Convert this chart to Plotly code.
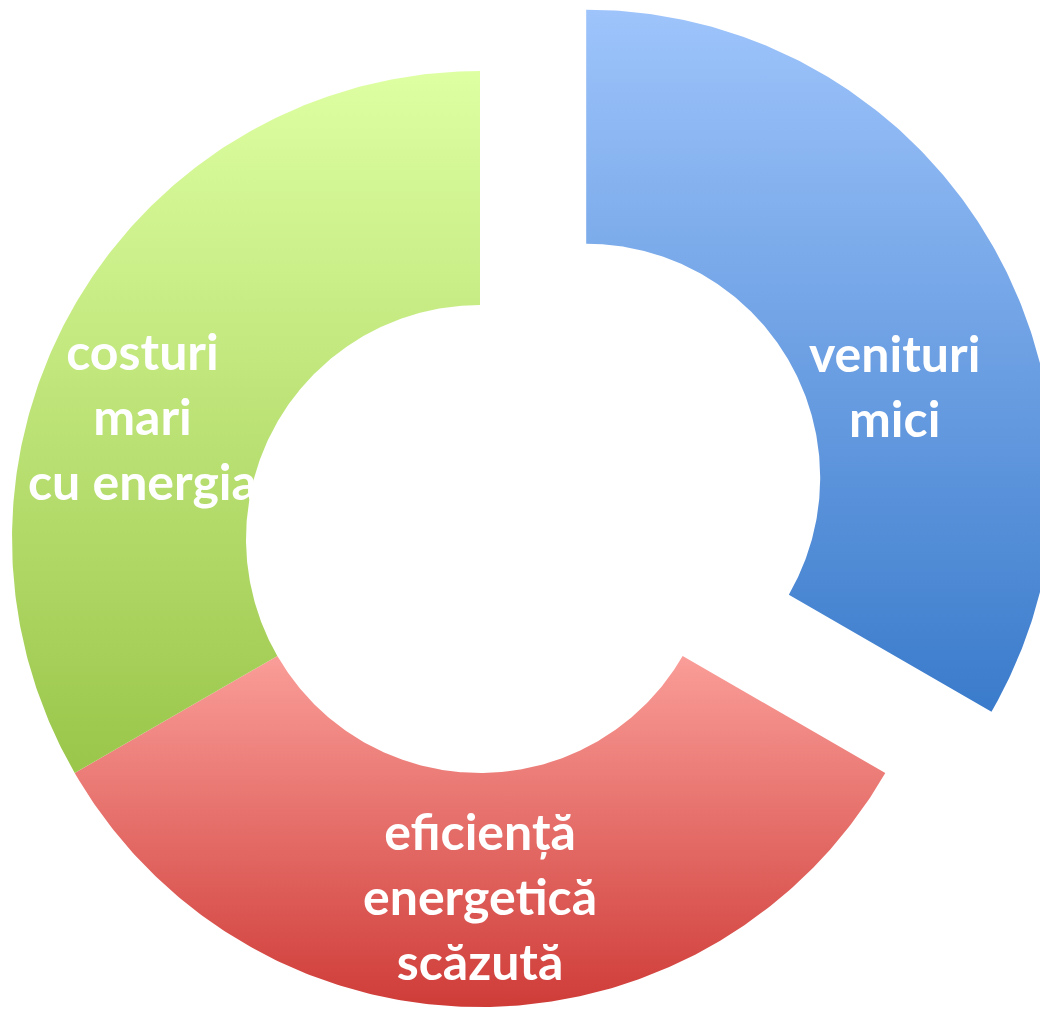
import numpy as np
import plotly.graph_objects as go

# ---- data ----
labels = ["venituri<br>mici", "eficiență<br>energetică<br>scăzută", "costuri<br>mari<br>cu energia"]
values = [1, 1, 1]
pull = [0.262, 0, 0]

# ---- styles ----
color_top = ["#9EC4FB", "#FA9D98", "#DEFFA2"]
color_bottom = ["#3A7BCB", "#CF3C38", "#9AC64A"]
label_polar = [(0.687, 16.7), (0.762, 270.0), (0.768, 160.0)]  # (radius, angle) in slice frame

R_OUT = 1.0
HOLE = 0.5
ROTATION = 90.0
PX = 468.0             # pixels per unit radius
W, H = 1040, 1004      # page body keeps an 8px margin
CX, CY = 472.0, 531.0  # pixel position of ring centre inside the figure

fig = go.Figure()

total = float(sum(values))
start = ROTATION
for i, v in enumerate(values):
    span = v / total * 360.0
    a0, a1 = start, start - span      # clockwise
    mid = np.deg2rad((a0 + a1) / 2)
    ox, oy = pull[i] * R_OUT * np.cos(mid), pull[i] * R_OUT * np.sin(mid)
    t = np.deg2rad(np.linspace(a0, a1, 240))
    xs = np.concatenate([ox + R_OUT * np.cos(t), ox + HOLE * R_OUT * np.cos(t[::-1])])
    ys = np.concatenate([oy + R_OUT * np.sin(t), oy + HOLE * R_OUT * np.sin(t[::-1])])
    xs = np.append(xs, xs[0])
    ys = np.append(ys, ys[0])
    fig.add_trace(go.Scatter(
        x=xs, y=ys, mode="lines", line=dict(width=0, color=color_bottom[i]),
        fill="toself",
        fillgradient=dict(type="vertical",
                          colorscale=[[0, color_bottom[i]], [1, color_top[i]]]),
        name=labels[i].replace("<br>", " "), hoverinfo="name", showlegend=False,
    ))
    r, ang = label_polar[i]
    fig.add_annotation(
        x=ox + r * np.cos(np.deg2rad(ang)), y=oy + r * np.sin(np.deg2rad(ang)),
        text=labels[i], showarrow=False, xanchor="center", yanchor="middle",
        font=dict(family="Lato", size=50, color="white", weight=700),
    )
    start = a1

fig.update_layout(
    width=W, height=H, margin=dict(l=0, r=0, t=0, b=0),
    paper_bgcolor="white", plot_bgcolor="white", showlegend=False,
    xaxis=dict(range=[-CX / PX, (W - CX) / PX], visible=False, fixedrange=True),
    yaxis=dict(range=[-(H - CY) / PX, CY / PX], visible=False, fixedrange=True),
)

fig.write_html("out.html")
